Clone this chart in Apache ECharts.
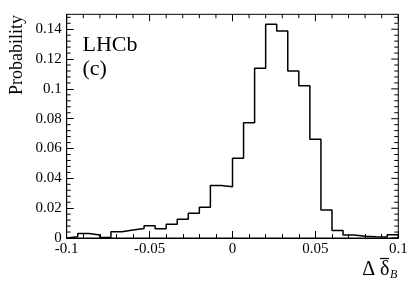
<!DOCTYPE html>
<html>
<head>
<meta charset="utf-8">
<script src="https://cdn.jsdelivr.net/npm/echarts@6/dist/echarts.min.js"></script>
<style>
html,body{margin:0;padding:0;background:#fff;}
#chart{width:419px;height:284px;}
</style>
</head>
<body>
<div id="chart"></div>
<script>
// Histogram of Δ δ̄_B : 30 bins from -0.1 to 0.1
const xMin = -0.1;
const xMax = 0.1;
const yMin = 0;
const yMax = 0.15;
const nBins = 30;
const probability = [
  0.0008, 0.0030, 0.0020, 0.0003, 0.0042, 0.0053, 0.0063, 0.0082, 0.0062, 0.0092,
  0.0125, 0.0166, 0.0206, 0.0352, 0.0344, 0.0534, 0.0773, 0.1138, 0.1433, 0.1388,
  0.1120, 0.1021, 0.0662, 0.0188, 0.0050, 0.0020, 0.0012, 0.0008, 0.0006, 0.0022
];
const xTickLabels = ['-0.1', '-0.05', '0', '0.05', '0.1'];
const yTickLabels = ['0', '0.02', '0.04', '0.06', '0.08', '0.1', '0.12', '0.14'];
const xMajorStep = 0.05, xMinorStep = 0.01;
const yMajorStep = 0.02, yMinorStep = 0.004;

const binWidth = (xMax - xMin) / nBins;
const stepData = [[xMin, 0]];
probability.forEach(function (v, i) { stepData.push([xMin + i * binWidth, v]); });
stepData.push([xMax, probability[probability.length - 1]]);
stepData.push([xMax, 0]);

const FONT = '"Liberation Serif", "Times New Roman", serif';
const black = '#000';
const MAJOR = 7, MINOR = 4;

// frame ticks drawn as thin rect symbols placed through the axes' scales
const topTicks = [], leftMinorTicks = [], rightTicks = [];
for (let k = 0; k <= Math.round((xMax - xMin) / xMinorStep); k++) {
  const len = k % 5 === 0 ? MAJOR : MINOR;
  topTicks.push({value: [+(xMin + k * xMinorStep).toFixed(4), yMax], symbolSize: [1, len], symbolOffset: [0, len / 2]});
}
for (let k = 0; k * yMinorStep < yMax - 1e-9; k++) {
  const major = k % 5 === 0;
  const v = +(k * yMinorStep).toFixed(4);
  if (!major) leftMinorTicks.push({value: [xMin, v], symbolSize: [MINOR, 1], symbolOffset: [MINOR / 2, 0]});
  const len = major ? MAJOR : MINOR;
  rightTicks.push({value: [xMax, v], symbolSize: [len, 1], symbolOffset: [-len / 2, 0]});
}

function tickSeries(data) {
  return {
    type: 'scatter', symbol: 'rect', data: data, clip: false, silent: true,
    itemStyle: {color: black, opacity: 1}, emphasis: {disabled: true}, z: 5
  };
}

const chart = echarts.init(document.getElementById('chart'), null, {renderer: 'canvas'});

chart.setOption({
  animation: false,
  backgroundColor: '#fff',
  grid: {left: 66.7, right: 20.7, top: 14.3, bottom: 46, containLabel: false, outerBoundsMode: 'none',
    show: true, borderColor: black, borderWidth: 1, backgroundColor: 'transparent'},
  xAxis: {
    type: 'value', min: xMin, max: xMax, interval: xMajorStep,
    axisLine: {show: true, onZero: false, lineStyle: {color: black, width: 1}},
    axisTick: {show: true, inside: true, length: MAJOR, lineStyle: {color: black, width: 1}},
    minorTick: {show: true, splitNumber: 5, length: MINOR, lineStyle: {color: black, width: 1}},
    axisLabel: {margin: 4, color: black, fontFamily: FONT, fontSize: 15,
      formatter: function (v) {
        const i = Math.round((v - xMin) / xMajorStep);
        return xTickLabels[i] !== undefined ? xTickLabels[i] : '';
      }},
    splitLine: {show: false}
  },
  yAxis: {
    type: 'value', min: yMin, max: yMax, interval: yMajorStep,
    axisLine: {show: true, onZero: false, lineStyle: {color: black, width: 1}},
    axisTick: {show: true, inside: true, length: MAJOR, lineStyle: {color: black, width: 1}},
    axisLabel: {margin: 5, showMaxLabel: false, color: black, fontFamily: FONT, fontSize: 15,
      formatter: function (v) {
        const i = Math.round(v / yMajorStep);
        return (Math.abs(v - i * yMajorStep) < 1e-9 && yTickLabels[i] !== undefined) ? yTickLabels[i] : '';
      }},
    splitLine: {show: false}
  },
  series: [
    {
      type: 'line', step: 'end',
      symbol: 'none', data: stepData,
      lineStyle: {color: black, width: 1.5}
    },
    tickSeries(topTicks),
    tickSeries(leftMinorTicks),
    tickSeries(rightTicks)
  ],
  graphic: [
    {type: 'text', x: 17, y: 15, rotation: Math.PI / 2,
      style: {text: 'Probability', font: '18px ' + FONT, fill: black, textAlign: 'right', textVerticalAlign: 'middle'}},
    {type: 'text', x: 82.5, y: 45,
      style: {text: 'LHCb', font: '22px ' + FONT, fill: black, textAlign: 'left', textVerticalAlign: 'middle'}},
    {type: 'text', x: 82.5, y: 69,
      style: {text: '(c)', font: '22px ' + FONT, fill: black, textAlign: 'left', textVerticalAlign: 'middle'}},
    {type: 'text', x: 389.5, y: 270,
      style: {text: 'Δ δ', font: '20px ' + FONT, fill: black, textAlign: 'right', textVerticalAlign: 'middle'}},
    {type: 'line', shape: {x1: 380, y1: 258.5, x2: 389, y2: 258.5},
      style: {stroke: black, lineWidth: 1.2}},
    {type: 'text', x: 390, y: 275,
      style: {text: 'B', font: 'italic 12px ' + FONT, fill: black, textAlign: 'left', textVerticalAlign: 'middle'}}
  ]
});
</script>
</body>
</html>
